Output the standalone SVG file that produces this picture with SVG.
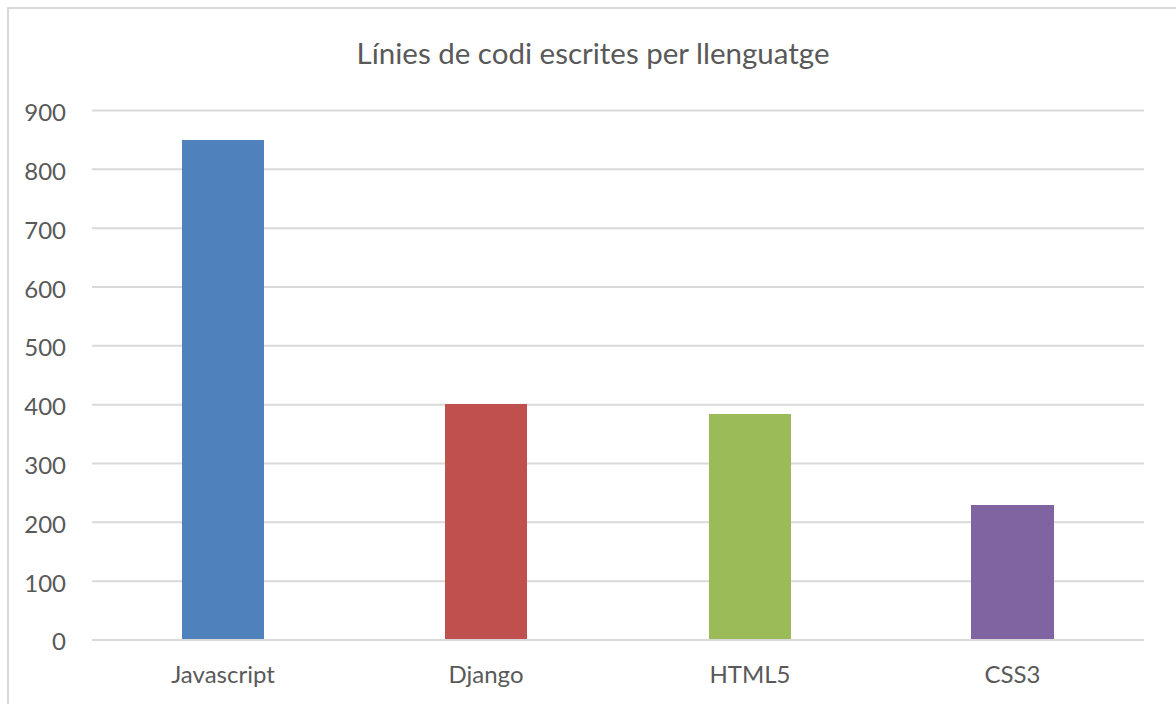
<svg xmlns="http://www.w3.org/2000/svg" width="1176" height="704" viewBox="0 0 1176 704">
  <style>
    .lbl { font-family: Lato, "Liberation Sans", sans-serif; font-size: 24px; fill: #595959; }
    .ttl { font-family: Lato, "Liberation Sans", sans-serif; font-size: 29.5px; fill: #595959; }
    .grid line { stroke: #D9D9D9; stroke-width: 2; }
  </style>
  <rect x="0" y="0" width="1176" height="704" fill="#FFFFFF"/>
  <!-- chart frame -->
  <rect x="8" y="8" width="1180" height="710" fill="none" stroke="#D9D9D9" stroke-width="2"/>

  <text class="ttl" x="593" y="64" text-anchor="middle">Línies de codi escrites per llenguatge</text>

  <!-- horizontal gridlines, 100 units = 58.83px -->
  <g class="grid">
    <line x1="92" y1="110.5" x2="1144" y2="110.5"/>
    <line x1="92" y1="169.3" x2="1144" y2="169.3"/>
    <line x1="92" y1="228.2" x2="1144" y2="228.2"/>
    <line x1="92" y1="287" x2="1144" y2="287"/>
    <line x1="92" y1="345.8" x2="1144" y2="345.8"/>
    <line x1="92" y1="404.7" x2="1144" y2="404.7"/>
    <line x1="92" y1="463.5" x2="1144" y2="463.5"/>
    <line x1="92" y1="522.3" x2="1144" y2="522.3"/>
    <line x1="92" y1="581.2" x2="1144" y2="581.2"/>
    <line x1="92" y1="640" x2="1144" y2="640"/>
  </g>

  <!-- value axis labels -->
  <g id="y-axis" class="lbl" text-anchor="end">
    <text x="66" y="121">900</text>
    <text x="66" y="180">800</text>
    <text x="66" y="239">700</text>
    <text x="66" y="298">600</text>
    <text x="66" y="356">500</text>
    <text x="66" y="415">400</text>
    <text x="66" y="474">300</text>
    <text x="66" y="533">200</text>
    <text x="66" y="592">100</text>
    <text x="66" y="650">0</text>
  </g>

  <!-- bars -->
  <g id="bar-javascript">
    <rect x="182" y="140" width="82" height="499" fill="#4F81BD"/>
    <text class="lbl" x="223" y="683" text-anchor="middle">Javascript</text>
  </g>
  <g id="bar-django">
    <rect x="445" y="404" width="82" height="235" fill="#C0504D"/>
    <text class="lbl" x="486" y="683" text-anchor="middle">Django</text>
  </g>
  <g id="bar-html5">
    <rect x="709" y="414" width="82" height="225" fill="#9BBB59"/>
    <text class="lbl" x="750" y="683" text-anchor="middle">HTML5</text>
  </g>
  <g id="bar-css3">
    <rect x="971" y="505" width="83" height="134" fill="#8064A2"/>
    <text class="lbl" x="1012.5" y="683" text-anchor="middle">CSS3</text>
  </g>
</svg>
